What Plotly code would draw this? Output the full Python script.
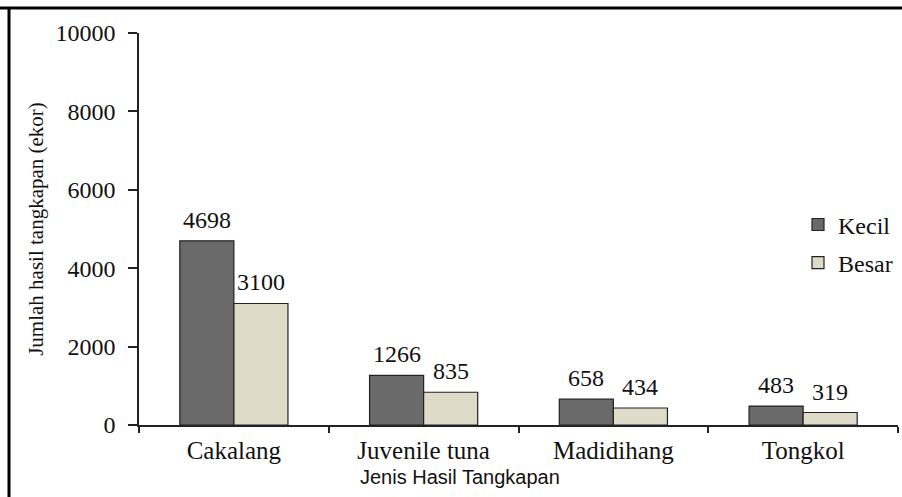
import plotly.graph_objects as go

categories = ["Cakalang", "Juvenile tuna", "Madidihang", "Tongkol"]
kecil = [4698, 1266, 658, 483]
besar = [3100, 835, 434, 319]
y_ticks = [0, 2000, 4000, 6000, 8000, 10000]

serif = "Liberation Serif"
ink = "#111111"

fig = go.Figure()
fig.add_trace(go.Bar(
    x=categories, y=kecil, name="Kecil",
    marker=dict(color="#6a6a6a", line=dict(color="#222222", width=1.2)),
    legendgroup="a",
))
fig.add_trace(go.Bar(
    x=categories, y=besar, name="Besar",
    marker=dict(color="#dedbc8", line=dict(color="#222222", width=1.2)),
    legendgroup="b",
))

annotations = []
for series, shift in ((kecil, -27), (besar, 27)):
    for cat, v in zip(categories, series):
        annotations.append(dict(
            x=cat, y=v, xref="x", yref="y", text=str(v), showarrow=False,
            xshift=shift, yshift=6, yanchor="bottom", xanchor="center",
            font=dict(family=serif, size=24, color=ink),
        ))
annotations.append(dict(
    text="Jenis Hasil Tangkapan", xref="paper", yref="paper",
    x=(460 - 139) / 759, y=-0.1, xanchor="center", yanchor="top",
    showarrow=False,
    font=dict(family="Liberation Sans", size=20, color=ink),
))

fig.update_layout(
    width=902, height=497,
    margin=dict(l=139, r=4, t=33, b=72),
    paper_bgcolor="white", plot_bgcolor="white",
    barmode="group", bargap=0.43, bargroupgap=0,
    showlegend=True,
    legend=dict(
        x=1.0, xanchor="right", y=0.462, yanchor="middle",
        font=dict(family=serif, size=24, color=ink),
        tracegroupgap=4, itemwidth=30,
        bgcolor="rgba(0,0,0,0)",
    ),
    xaxis=dict(
        showline=True, linecolor="#222222", linewidth=1.5,
        ticks="outside", tickson="boundaries", ticklen=6, tickcolor="#222222",
        tickwidth=1.5, ticklabelstandoff=2,
        tickfont=dict(family=serif, size=25, color=ink),
        showgrid=False,
    ),
    yaxis=dict(
        range=[0, 10000], tickvals=y_ticks, ticktext=[str(t) for t in y_ticks],
        showline=True, linecolor="#222222", linewidth=1.5,
        ticks="outside", ticklen=9, tickcolor="#222222", tickwidth=1.5,
        ticklabelstandoff=8,
        tickfont=dict(family=serif, size=24, color=ink),
        showgrid=False, zeroline=False,
        title=dict(text="Jumlah hasil tangkapan (ekor)",
                   font=dict(family=serif, size=21, color=ink),
                   standoff=6),
    ),
    annotations=annotations,
    shapes=[
        dict(type="line", xref="paper", yref="paper",
             x0=-139 / 759, x1=1.01, y0=(497 - 8 - 72) / 392, y1=(497 - 8 - 72) / 392,
             line=dict(color="black", width=3)),
        dict(type="line", xref="paper", yref="paper",
             x0=-130 / 759, x1=-130 / 759, y0=-72 / 392, y1=(497 - 8 - 72) / 392,
             line=dict(color="black", width=3)),
    ],
)

fig.write_html("out.html")
